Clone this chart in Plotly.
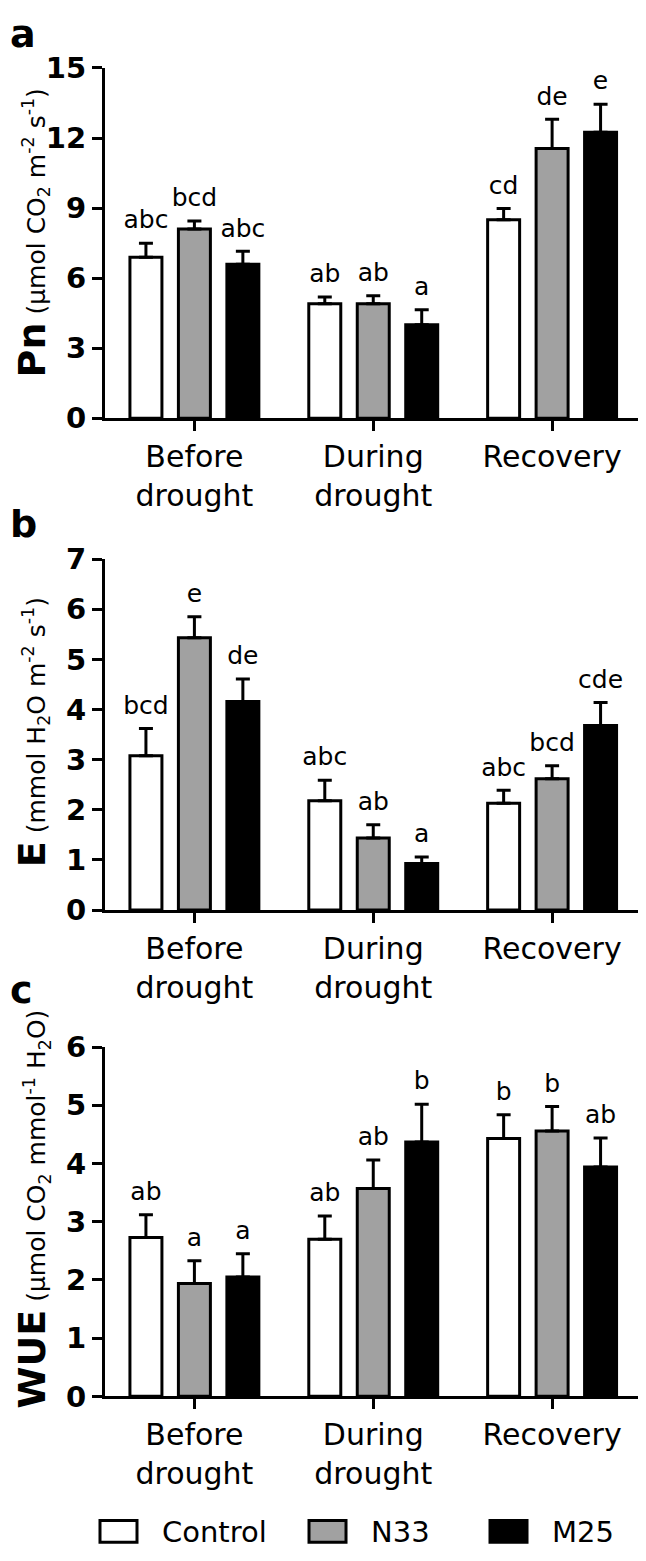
import plotly.graph_objects as go
from plotly.subplots import make_subplots

# categories and groups
periods = ["Before<br>drought", "During<br>drought", "Recovery"]
treatments = ["Control", "N33", "M25"]
fills = ["white", "#a1a1a1", "black"]

# a: net photosynthesis Pn
pn_control = [6.9, 4.9, 8.5]
pn_n33 = [8.1, 4.9, 11.55]
pn_m25 = [6.6, 4.0, 12.25]
pn_control_se = [0.6, 0.29, 0.48]
pn_n33_se = [0.35, 0.35, 1.25]
pn_m25_se = [0.55, 0.65, 1.2]
pn_control_letters = ["abc", "ab", "cd"]
pn_n33_letters = ["bcd", "ab", "de"]
pn_m25_letters = ["abc", "a", "e"]

# b: transpiration E
e_control = [3.08, 2.18, 2.13]
e_n33 = [5.43, 1.44, 2.62]
e_m25 = [4.16, 0.93, 3.68]
e_control_se = [0.54, 0.41, 0.26]
e_n33_se = [0.42, 0.26, 0.26]
e_m25_se = [0.45, 0.13, 0.46]
e_control_letters = ["bcd", "abc", "abc"]
e_n33_letters = ["e", "ab", "bcd"]
e_m25_letters = ["de", "a", "cde"]

# c: water use efficiency WUE
wue_control = [2.73, 2.70, 4.43]
wue_n33 = [1.94, 3.57, 4.56]
wue_m25 = [2.05, 4.37, 3.94]
wue_control_se = [0.39, 0.40, 0.41]
wue_n33_se = [0.39, 0.49, 0.42]
wue_m25_se = [0.40, 0.65, 0.50]
wue_control_letters = ["ab", "ab", "b"]
wue_n33_letters = ["a", "ab", "b"]
wue_m25_letters = ["a", "b", "ab"]

# y axis ticks
pn_ticks = [0, 3, 6, 9, 12, 15]
e_ticks = [0, 1, 2, 3, 4, 5, 6, 7]
wue_ticks = [0, 1, 2, 3, 4, 5, 6]

panels = [
    ([pn_control, pn_n33, pn_m25], [pn_control_se, pn_n33_se, pn_m25_se],
     [pn_control_letters, pn_n33_letters, pn_m25_letters], pn_ticks),
    ([e_control, e_n33, e_m25], [e_control_se, e_n33_se, e_m25_se],
     [e_control_letters, e_n33_letters, e_m25_letters], e_ticks),
    ([wue_control, wue_n33, wue_m25], [wue_control_se, wue_n33_se, wue_m25_se],
     [wue_control_letters, wue_n33_letters, wue_m25_letters], wue_ticks),
]

FONT = "DejaVu Sans"
BARGAP = 0.187
# page body keeps its default 8px margin, so the figure is 8px smaller
W, H = 638, 1553

fig = make_subplots(rows=3, cols=1)

for row, (means, errs, letters, ticks) in enumerate(panels, start=1):
    for i, name in enumerate(treatments):
        fig.add_trace(
            go.Bar(
                name=name,
                x=periods,
                y=means[i],
                marker=dict(color=fills[i], line=dict(color="black", width=3)),
                error_y=dict(
                    type="data",
                    array=errs[i],
                    arrayminus=[0] * len(errs[i]),
                    symmetric=False,
                    color="black",
                    thickness=3,
                    width=7,
                ),
                offsetgroup=name,
                showlegend=False,
            ),
            row=row,
            col=1,
        )
        # significance letters above the error bars
        fig.add_trace(
            go.Scatter(
                x=periods,
                y=[m + s for m, s in zip(means[i], errs[i])],
                mode="markers+text",
                text=letters[i],
                textposition="top center",
                textfont=dict(family=FONT, size=25, color="black"),
                marker=dict(size=12, opacity=0),
                offsetgroup=name,
                showlegend=False,
                hoverinfo="skip",
            ),
            row=row,
            col=1,
        )

domains = [(0.7411, 0.9717), (0.4173, 0.6484), (0.0972, 0.3271)]
for row, (d, (_, _, _, ticks)) in enumerate(zip(domains, panels), start=1):
    fig.update_yaxes(
        domain=list(d),
        range=[0, ticks[-1]],
        tickvals=ticks,
        showline=True,
        linecolor="black",
        linewidth=3,
        ticks="outside",
        ticklen=10,
        tickwidth=3,
        tickcolor="black",
        tickfont=dict(family=FONT, size=29, color="black", weight="bold"),
        showgrid=False,
        zeroline=False,
        row=row,
        col=1,
    )
    fig.update_xaxes(
        domain=[0.152, 1.0],
        range=[-0.5, 2.525],
        showline=True,
        linecolor="black",
        linewidth=3,
        ticks="outside",
        ticklen=10,
        tickwidth=3,
        tickcolor="black",
        tickfont=dict(family=FONT, size=30, color="black"),
        showgrid=False,
        row=row,
        col=1,
    )

# panel letters and y titles
ann = []
for letter, y in zip(["a", "b", "c"], [0.9942, 0.6716, 0.3645]):
    ann.append(dict(text=f"<b>{letter}</b>", x=0.0, y=y, xref="paper", yref="paper",
                    xanchor="left", yanchor="middle", showarrow=False,
                    font=dict(family=FONT, size=38, color="black")))

ytitles = [
    ("<span style='font-size:38px'><b>Pn</b></span> (μmol CO<sub>2</sub> m<sup>-2</sup> s<sup>-1</sup>)", 0.8628),
    ("<span style='font-size:38px'><b>E</b></span> (mmol H<sub>2</sub>O m<sup>-2</sup> s<sup>-1</sup>)", 0.5344),
    ("<span style='font-size:38px'><b>WUE</b></span> (μmol CO<sub>2</sub> mmol<sup>-1</sup> H<sub>2</sub>O)", 0.2202),
]
for text, y in ytitles:
    ann.append(dict(text=text, x=0.0, y=y, xref="paper", yref="paper",
                    xanchor="left", yanchor="middle", textangle=-90, showarrow=False,
                    font=dict(family=FONT, size=25, color="black")))

# legend: boxes + labels along the bottom
legend_x = [0.1442, 0.4718, 0.7555]
shapes = []
for name, fill, x0 in zip(treatments, fills, legend_x):
    shapes.append(dict(type="rect", xref="paper", yref="paper",
                       x0=x0, x1=x0 + 0.058, y0=0.0012, y1=0.0155,
                       fillcolor=fill, line=dict(color="black", width=3)))
    ann.append(dict(text=name, x=x0 + 0.094, y=0.0080, xref="paper", yref="paper",
                    xanchor="left", yanchor="middle", showarrow=False,
                    font=dict(family=FONT, size=29, color="black")))

fig.update_layout(
    width=W,
    height=H,
    margin=dict(l=0, r=0, t=0, b=0),
    paper_bgcolor="white",
    plot_bgcolor="white",
    barmode="group",
    bargap=BARGAP,
    bargroupgap=0.34,
    scattermode="group",
    scattergap=BARGAP,
    annotations=ann,
    shapes=shapes,
    showlegend=False,
)

fig.write_html("out.html")
